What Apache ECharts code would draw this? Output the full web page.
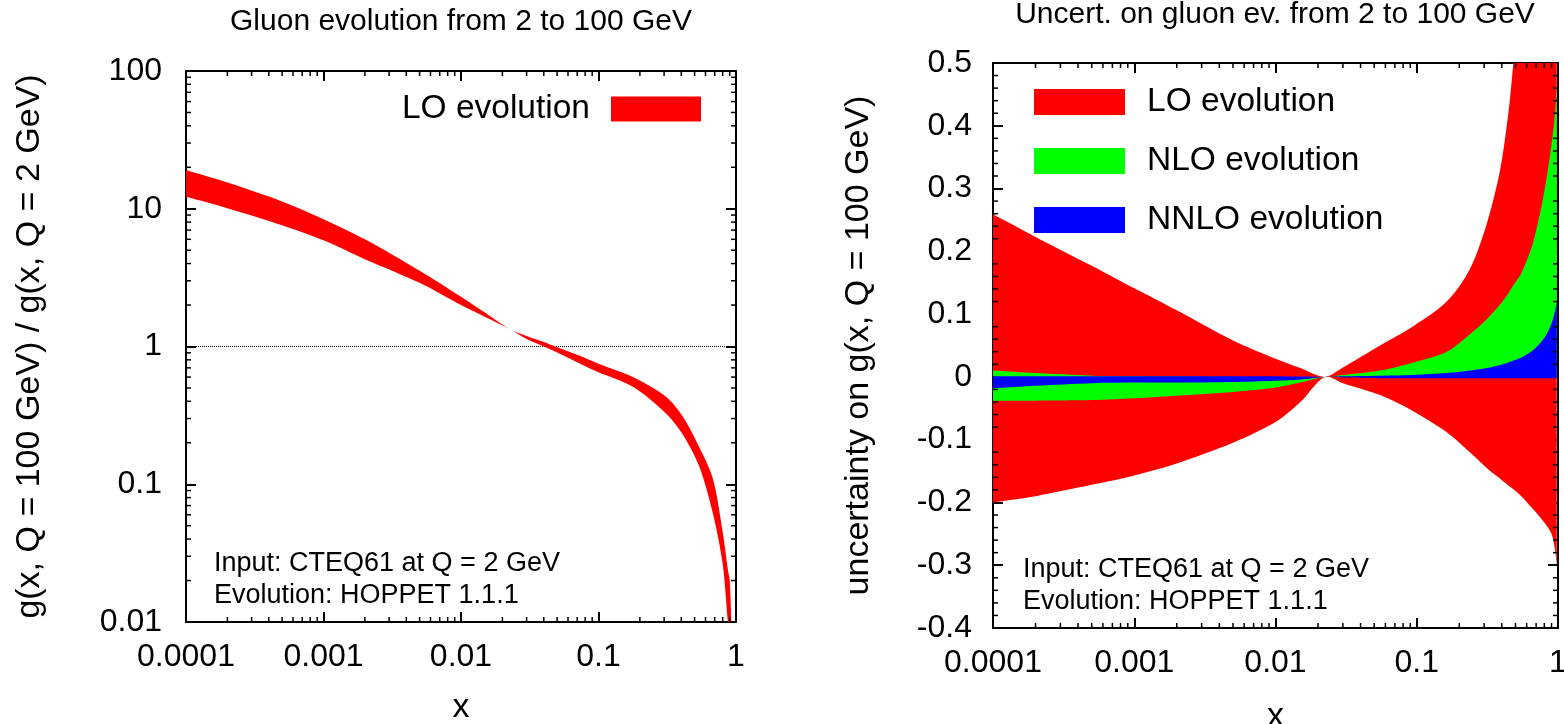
<!DOCTYPE html>
<html>
<head>
<meta charset="utf-8">
<script src="https://cdn.jsdelivr.net/npm/echarts@6/dist/echarts.min.js"></script>
<style>
  html, body { margin: 0; background: #fff; }
  #main { width: 1564px; height: 724px; }
</style>
</head>
<body>
<div id="main"></div>
<script>
// left panel: g(x, Q=100) / g(x, Q=2), upper and lower edge of the LO band
const xRatio = [1e-4, 2e-4, 5e-4, 1e-3, 2e-3, 5e-3, 0.01, 0.015, 0.0226, 0.03, 0.044, 0.07, 0.1, 0.178, 0.311, 0.41, 0.54, 0.68, 0.8, 0.873, 0.9, 0.925, 0.95];
const ratioHi = [19.1, 15.5, 11.3, 8.4, 6.0, 3.55, 2.3, 1.76, 1.34, 1.19, 1.04, 0.87, 0.75, 0.60, 0.43, 0.31, 0.186, 0.109, 0.045, 0.024, 0.020, 0.010, 0.004];
const ratioLo = [12.2, 10.1, 7.6, 5.9, 4.3, 2.9, 2.0, 1.64, 1.34, 1.135, 0.96, 0.77, 0.65, 0.51, 0.325, 0.23, 0.135, 0.061, 0.0264, 0.010, 0.0075, 0.005, 0.002];

// right panel: uncertainty bands
const xUnc = [1e-4, 2e-4, 5e-4, 1e-3, 2e-3, 5e-3, 0.01, 0.015, 0.0223, 0.03, 0.055, 0.095, 0.163, 0.238, 0.313, 0.388, 0.445, 0.483, 0.55, 0.668, 0.8, 0.9, 0.953, 0.98];
const loHi = [0.259, 0.223, 0.177, 0.141, 0.106, 0.058, 0.029, 0.014, 0, 0.015, 0.050, 0.081, 0.120, 0.172, 0.244, 0.328, 0.420, 0.500, 0.65, 0.9, 1.2, 1.5, 1.8, 2.0];
const loLo = [-0.200, -0.190, -0.172, -0.157, -0.138, -0.105, -0.072, -0.040, 0, -0.010, -0.029, -0.055, -0.088, -0.120, -0.145, -0.162, -0.173, -0.179, -0.190, -0.211, -0.232, -0.250, -0.276, -0.300];
const nloHi = [0.010, 0.006, 0.002, 0.001, 0.0005, 0, 0, 0, 0, 0.003, 0.010, 0.023, 0.040, 0.068, 0.092, 0.115, 0.133, 0.146, 0.165, 0.215, 0.295, 0.370, 0.420, 0.460];
const nloLo = [-0.038, -0.038, -0.037, -0.034, -0.030, -0.024, -0.017, -0.009, 0, 0, 0, 0, 0, 0, 0, 0, 0, 0, 0, 0, 0, 0, 0, 0];
const nnloHi = [0.001, 0.001, 0.001, 0.001, 0.001, 0.001, 0.001, 0.0005, 0, 0.001, 0.002, 0.003, 0.006, 0.010, 0.014, 0.019, 0.023, 0.026, 0.031, 0.043, 0.062, 0.085, 0.105, 0.120];
const nnloLo = [-0.018, -0.014, -0.010, -0.009, -0.009, -0.008, -0.006, -0.004, 0, -0.001, -0.002, -0.002, -0.002, -0.002, -0.002, -0.002, -0.002, -0.002, -0.002, -0.002, -0.002, -0.002, -0.002, -0.002];

const legendLeft = ['LO evolution'];
const legendRight = ['LO evolution', 'NLO evolution', 'NNLO evolution'];

// minor tick positions (2..9 in every decade, every 0.02 on the linear axis)
const decadeSteps = [2, 3, 4, 5, 6, 7, 8, 9];
function logMinor(fromExp, toExp) {
  const out = [];
  for (let e = fromExp; e < toExp; e++) {
    decadeSteps.forEach(k => out.push(k * Math.pow(10, e)));
  }
  return out;
}
const xMinor = logMinor(-4, 0);
const ratioMinor = logMinor(-2, 2);
const uncMinor = [];
for (let i = -19; i < 25; i++) {
  if (i % 5 !== 0) uncMinor.push(i / 50);
}

const FONT = 'Liberation Sans, Arial, Helvetica, sans-serif';
const RED = '#ff0000', GREEN = '#00ff00', BLUE = '#0000ff';

function fmtNum(v) {
  return String(Number(Number(v).toPrecision(6)));
}

function makeAxis(opt) {
  return Object.assign({
    axisLine: { show: true, onZero: false, lineStyle: { color: '#000', width: 2 } },
    axisTick: { show: true, inside: true, length: 10, lineStyle: { color: '#000', width: 2 } },
    splitLine: { show: false },
    axisLabel: {
      show: opt.labels !== false, color: '#000', fontSize: 32, fontFamily: FONT,
      lineHeight: 32, margin: opt.margin || 20, formatter: opt.fmt || fmtNum
    },
    nameTextStyle: { color: '#000', fontSize: 34, fontFamily: FONT },
    nameLocation: 'middle'
  }, opt.axis);
}

// whole band drawn as one smoothed polygon: upper edge forward, lower edge back
// (corner points are doubled so the ends stay square)
function bandSeries(name, color, xs, lo, hi, gi, extra) {
  return Object.assign({
    type: 'custom',
    name: name,
    xAxisIndex: gi * 2,
    yAxisIndex: gi * 2,
    clip: true,
    silent: true,
    itemStyle: { color: color },
    encode: { x: 0, y: [1, 2] },
    data: xs.map((x, i) => [x, lo[i], hi[i]]),
    renderItem: function (params, api) {
      if (params.dataIndex !== 0) return null;
      const n = xs.length;
      const pts = [];
      for (let i = 0; i < n; i++) {
        const p = api.coord([xs[i], hi[i]]);
        pts.push(p);
        if (i === 0 || i === n - 1) pts.push(p.slice());
      }
      for (let i = n - 1; i >= 0; i--) {
        const p = api.coord([xs[i], lo[i]]);
        pts.push(p);
        if (i === 0 || i === n - 1) pts.push(p.slice());
      }
      return {
        type: 'polygon',
        shape: { points: pts, smooth: 0.3 },
        style: { fill: color }
      };
    }
  }, extra || {});
}

// minor ticks on both opposite sides of a grid
function minorTickSeries(dir, values, gi, ref) {
  return {
    type: 'custom',
    xAxisIndex: gi * 2,
    yAxisIndex: gi * 2,
    silent: true,
    z: 10,
    data: values.map(v => dir === 'x' ? [v, ref] : [ref, v]),
    renderItem: function (params, api) {
      const cs = params.coordSys;
      const p = api.coord([api.value(0), api.value(1)]);
      const st = { stroke: '#000', lineWidth: 1.5 };
      const len = 5;
      if (dir === 'x') {
        return {
          type: 'group', children: [
            { type: 'line', shape: { x1: p[0], y1: cs.y + cs.height, x2: p[0], y2: cs.y + cs.height - len }, style: st },
            { type: 'line', shape: { x1: p[0], y1: cs.y, x2: p[0], y2: cs.y + len }, style: st }
          ]
        };
      }
      return {
        type: 'group', children: [
          { type: 'line', shape: { x1: cs.x, y1: p[1], x2: cs.x + len, y2: p[1] }, style: st },
          { type: 'line', shape: { x1: cs.x + cs.width, y1: p[1], x2: cs.x + cs.width - len, y2: p[1] }, style: st }
        ]
      };
    }
  };
}

const chart = echarts.init(document.getElementById('main'));

const legendText = { color: '#000', fontSize: 33.5, fontFamily: FONT };

const option = {
  animation: false,
  backgroundColor: '#fff',
  grid: [
    { left: 186, top: 71, width: 550, height: 551, containLabel: false, outerBoundsMode: 'none' },
    { left: 993, top: 63, width: 565, height: 565, containLabel: false, outerBoundsMode: 'none' }
  ],
  xAxis: [
    makeAxis({ margin: 19, axis: { type: 'log', gridIndex: 0, position: 'bottom', min: 0.0001, max: 1, name: 'x', nameGap: 69 } }),
    makeAxis({ labels: false, axis: { type: 'log', gridIndex: 0, position: 'top', min: 0.0001, max: 1 } }),
    makeAxis({ margin: 19, axis: { type: 'log', gridIndex: 1, position: 'bottom', min: 0.0001, max: 1, name: 'x', nameGap: 72 } }),
    makeAxis({ labels: false, axis: { type: 'log', gridIndex: 1, position: 'top', min: 0.0001, max: 1 } })
  ],
  yAxis: [
    makeAxis({ margin: 24, axis: { type: 'log', gridIndex: 0, position: 'left', min: 0.01, max: 100, name: 'g(x, Q = 100 GeV) / g(x, Q = 2 GeV)', nameGap: 139 } }),
    makeAxis({ labels: false, axis: { type: 'log', gridIndex: 0, position: 'right', min: 0.01, max: 100 } }),
    makeAxis({ margin: 21, fmt: v => String(+Number(v).toFixed(1)), axis: { type: 'value', gridIndex: 1, position: 'left', min: -0.4, max: 0.5, interval: 0.1, name: 'uncertainty on g(x, Q = 100 GeV)', nameGap: 117 } }),
    makeAxis({ labels: false, axis: { type: 'value', gridIndex: 1, position: 'right', min: -0.4, max: 0.5, interval: 0.1 } })
  ],
  legend: [
    {
      data: legendLeft, right: 863, top: 92, orient: 'horizontal', align: 'right',
      padding: 0, itemWidth: 90, itemHeight: 25, icon: 'rect', selectedMode: false,
      itemStyle: { borderWidth: 0 },
      textStyle: Object.assign({ lineHeight: 25, padding: [0, 16, 0, 0] }, legendText)
    },
    {
      data: legendRight, left: 1034, top: 85, orient: 'vertical', align: 'left',
      padding: 0, itemWidth: 91, itemHeight: 26, itemGap: 25, icon: 'rect', selectedMode: false,
      itemStyle: { borderWidth: 0 },
      textStyle: Object.assign({ lineHeight: 26, padding: [0, 0, 0, 17] }, legendText)
    }
  ],
  graphic: [
    { type: 'text', x: 461, y: 22, style: { text: 'Gluon evolution from 2 to 100 GeV', font: '30px ' + FONT, fill: '#000', align: 'center', verticalAlign: 'middle' } },
    { type: 'text', x: 1275, y: 15, style: { text: 'Uncert. on gluon ev. from 2 to 100 GeV', font: '30px ' + FONT, fill: '#000', align: 'center', verticalAlign: 'middle' } },
    { type: 'text', x: 214, y: 564, style: { text: 'Input: CTEQ61 at Q = 2 GeV', font: '27px ' + FONT, fill: '#000', verticalAlign: 'middle' } },
    { type: 'text', x: 214, y: 596, style: { text: 'Evolution: HOPPET 1.1.1', font: '27px ' + FONT, fill: '#000', verticalAlign: 'middle' } },
    { type: 'text', x: 1023, y: 570, style: { text: 'Input: CTEQ61 at Q = 2 GeV', font: '27px ' + FONT, fill: '#000', verticalAlign: 'middle' } },
    { type: 'text', x: 1023, y: 602, style: { text: 'Evolution: HOPPET 1.1.1', font: '27px ' + FONT, fill: '#000', verticalAlign: 'middle' } }
  ],
  series: [
    bandSeries('LO evolution', RED, xRatio, ratioLo, ratioHi, 0, {
      markLine: {
        silent: true, symbol: 'none', z: 1,
        label: { show: false },
        lineStyle: { type: 'dotted', color: '#000', width: 1 },
        data: [{ yAxis: 1 }]
      }
    }),
    minorTickSeries('x', xMinor, 0, 1),
    minorTickSeries('y', ratioMinor, 0, 0.001),
    bandSeries('LO evolution', RED, xUnc, loLo, loHi, 1),
    bandSeries('NLO evolution', GREEN, xUnc, nloLo, nloHi, 1),
    bandSeries('NNLO evolution', BLUE, xUnc, nnloLo, nnloHi, 1),
    minorTickSeries('x', xMinor, 1, 0),
    minorTickSeries('y', uncMinor, 1, 0.001)
  ]
};

chart.setOption(option);
</script>
</body>
</html>
